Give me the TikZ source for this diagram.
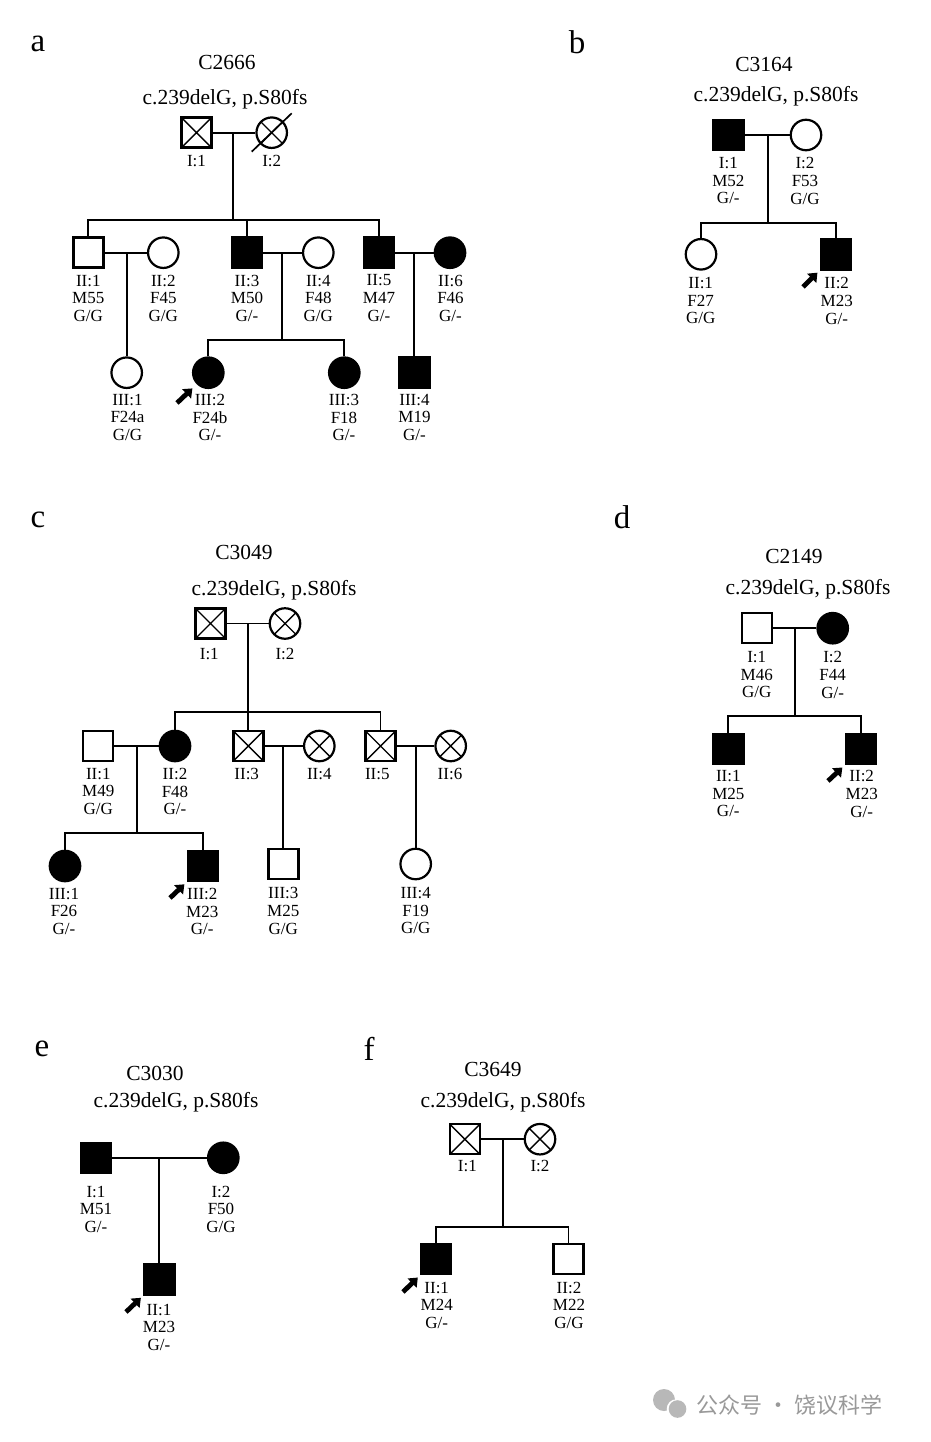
\documentclass[tikz,border=0pt]{standalone}
\usepackage{fontspec}
\setmainfont{Liberation Serif}
\newfontfamily\cjkfont{Noto Sans CJK SC}
\usetikzlibrary{arrows.meta}
\begin{document}
\begin{tikzpicture}[x=1pt,y=-1pt,
  line width=1.7pt,
  male/.style={draw, line width=2.5pt, rectangle, minimum size=30pt, inner sep=0pt, fill=white},
  female/.style={draw, line width=2.2pt, circle, minimum size=30.5pt, inner sep=0pt, fill=white},
  aff/.style={fill=black},
  xmark/.style={path picture={\draw[line width=1.4pt] (path picture bounding box.south west) -- (path picture bounding box.north east) (path picture bounding box.north west) -- (path picture bounding box.south east);}},
  lab/.style={anchor=north, align=center, inner sep=0pt, font=\fontsize{17}{17.6}\selectfont},
  title/.style={inner sep=0pt, font=\fontsize{21.5}{24}\selectfont},
  panel/.style={inner sep=0pt, font=\fontsize{33}{36}\selectfont},
  proband/.style={line width=4.8pt, -{Triangle[length=8pt,width=12.5pt]}, shorten >=3pt},
  wm/.style={fill=black!28, draw=none},
]
\fill[white] (0,0) rectangle (930,1442);
\useasboundingbox (0,0) rectangle (930,1442);

% ================= panel a =================
\node[panel] (la) at (38,44) {a};
\node[title] (ta1) at (227,62) {C2666};
\node[title] (ta2) at (225,99) {c.239delG, p.S80fs};
\node[male,xmark] (a11) at (196.5,132.7) {};
\node[female,xmark] (a12) at (271.7,132.7) {};
\draw (a12.center) ++(-20,19) -- ++(40,-38.4);
\node[lab] (a11l) at (196.5,154) {I:1};
\node[lab] (a12l) at (271.7,154) {I:2};
\draw (a11) -- (a12);
\coordinate (a1m) at (233.3,132.7);
\coordinate (a1s) at (233.3,220);
\draw (a1m) -- (a1s);

\node[male] (a21) at (88.3,252.7) {};
\node[female] (a22) at (163.3,252.7) {};
\node[male,aff] (a23) at (247,252.7) {};
\node[female] (a24) at (318.3,252.7) {};
\node[male,aff] (a25) at (378.8,252.7) {};
\node[female,aff] (a26) at (450,252.7) {};
\draw (a21.north) |- (a1s) -| (a25.north);
\draw (a23.north) -- (a23.north |- a1s);
\draw (a21) -- (a22);
\draw (a23) -- (a24);
\draw (a25) -- (a26);
\coordinate (a2m1) at (126.7,252.7);
\coordinate (a2m2) at (282.3,252.7);
\coordinate (a2m3) at (414.3,252.7);
\coordinate (a2s) at (282.3,340);
\node[lab] (a21l) at (88.3,274) {II:1\\M55\\G/G};
\node[lab] (a22l) at (163.3,274) {II:2\\F45\\G/G};
\node[lab] (a23l) at (247,274) {II:3\\M50\\G/-};
\node[lab] (a24l) at (318.3,274) {II:4\\F48\\G/G};
\node[lab] (a25l) at (379,274) {II:5\\M47\\G/-};
\node[lab] (a26l) at (450.5,274) {II:6\\F46\\G/-};

\node[female] (a31) at (126.7,372.7) {};
\node[female,aff] (a32) at (208.3,372.7) {};
\node[female,aff] (a33) at (344.3,372.7) {};
\node[male,aff] (a34) at (414.3,372.7) {};
\draw (a2m1) -- (a31);
\draw (a2m2) -- (a2s);
\draw (a32.north) |- (a2s) -| (a33.north);
\draw (a2m3) -- (a34);
\node[lab] (a31l) at (127.5,393.3) {III:1\\F24a\\G/G};
\node[lab] (a32l) at (210,393.3) {III:2\\F24b\\G/-};
\node[lab] (a33l) at (344,393.3) {III:3\\F18\\G/-};
\node[lab] (a34l) at (414.5,393.3) {III:4\\M19\\G/-};
\coordinate (pa) at (177,403);
\draw[proband, shorten >=6pt] (pa) -- (a32.south west);

% ================= panel b =================
\node[panel] (lb) at (577,42) {b};
\node[title] (tb1) at (764,64) {C3164};
\node[title] (tb2) at (776,96) {c.239delG, p.S80fs};
\node[male,aff] (b11) at (728.3,135) {};
\node[female] (b12) at (806,135) {};
\draw (b11) -- (b12);
\coordinate (bm) at (768.3,135);
\coordinate (bs) at (768.3,223.3);
\draw (bm) -- (bs);
\node[female] (b21) at (701,254.3) {};
\node[male,aff] (b22) at (835.8,254.3) {};
\draw (b21.north) |- (bs) -| (b22.north);
\node[lab] (b11l) at (728.3,156.7) {I:1\\M52\\G/-};
\node[lab] (b12l) at (805,156.7) {I:2\\F53\\G/G};
\node[lab] (b21l) at (700.7,276.7) {II:1\\F27\\G/G};
\node[lab] (b22l) at (836.7,276.7) {II:2\\M23\\G/-};
\coordinate (pb) at (803,287);
\draw[proband] (pb) -- (b22.south west);

% ================= panel c =================
\node[panel] (lc) at (38,520) {c};
\node[title] (tc1) at (244,552) {C3049};
\node[title] (tc2) at (274,590) {c.239delG, p.S80fs};
\node[male,xmark] (c11) at (210.5,623.5) {};
\node[female,xmark] (c12) at (285,623.5) {};
\draw (c11) -- (c12);
\coordinate (cm) at (248.3,623.5);
\coordinate (cs) at (248.3,711.7);
\draw (cm) -- (cs);
\node[lab] (c11l) at (209.3,647.3) {I:1};
\node[lab] (c12l) at (285,647.3) {I:2};

\node[male] (c21) at (98.2,746) {};
\node[female,aff] (c22) at (175,746) {};
\node[male,xmark] (c23) at (248.3,746) {};
\node[female,xmark] (c24) at (319.3,746) {};
\node[male,xmark] (c25) at (380.5,746) {};
\node[female,xmark] (c26) at (450.7,746) {};
\draw (c22.north) |- (cs) -| (c25.north);
\draw (cs) -- (c23);
\draw (c21) -- (c22);
\draw (c23) -- (c24);
\draw (c25) -- (c26);
\coordinate (c2m1) at (136.7,746);
\coordinate (c2m2) at (283.3,746);
\coordinate (c2m3) at (415.7,746);
\coordinate (c2s1) at (136.7,833.3);
\node[lab] (c21l) at (98.3,767.3) {II:1\\M49\\G/G};
\node[lab] (c22l) at (175,767.3) {II:2\\F48\\G/-};
\node[lab] (c23l) at (246.7,767.3) {II:3};
\node[lab] (c24l) at (319.3,767.3) {II:4};
\node[lab] (c25l) at (377.3,767.3) {II:5};
\node[lab] (c26l) at (450,767.3) {II:6};

\node[female,aff] (c31) at (65,866) {};
\node[male,aff] (c32) at (202.8,866) {};
\node[male] (c33) at (283.3,864) {};
\node[female] (c34) at (415.7,864) {};
\draw (c2m1) -- (c2s1);
\draw (c31.north) |- (c2s1) -| (c32.north);
\draw (c2m2) -- (c33);
\draw (c2m3) -- (c34);
\node[lab] (c31l) at (64,887.3) {III:1\\F26\\G/-};
\node[lab] (c32l) at (202.3,887.3) {III:2\\M23\\G/-};
\node[lab] (c33l) at (283.3,886.7) {III:3\\M25\\G/G};
\node[lab] (c34l) at (415.7,886.7) {III:4\\F19\\G/G};
\coordinate (pc) at (170,898);
\draw[proband] (pc) -- (c32.south west);

% ================= panel d =================
\node[panel] (ld) at (622,517) {d};
\node[title] (td1) at (794,556) {C2149};
\node[title] (td2) at (808,589) {c.239delG, p.S80fs};
\node[male] (d11) at (756.8,628.2) {};
\node[female,aff] (d12) at (832.7,628.2) {};
\draw (d11) -- (d12);
\coordinate (dm) at (795,628.2);
\coordinate (ds) at (795,715.7);
\draw (dm) -- (ds);
\node[male,aff] (d21) at (728.3,749.2) {};
\node[male,aff] (d22) at (860.8,749.2) {};
\draw (d21.north) |- (ds) -| (d22.north);
\node[lab] (d11l) at (756.7,650.7) {I:1\\M46\\G/G};
\node[lab] (d12l) at (832.7,650.7) {I:2\\F44\\G/-};
\node[lab] (d21l) at (728.3,769.7) {II:1\\M25\\G/-};
\node[lab] (d22l) at (861.7,769.7) {II:2\\M23\\G/-};
\coordinate (pd) at (828,781);
\draw[proband] (pd) -- (d22.south west);

% ================= panel e =================
\node[panel] (le) at (42,1049) {e};
\node[title] (te1) at (155,1073) {C3030};
\node[title] (te2) at (176,1102) {c.239delG, p.S80fs};
\node[male,aff] (e11) at (95.8,1157.8) {};
\node[female,aff] (e12) at (223.3,1157.8) {};
\draw (e11) -- (e12);
\coordinate (em) at (159.3,1157.8);
\node[male,aff] (e21) at (159.3,1279.5) {};
\draw (em) -- (e21);
\node[lab] (e11l) at (96,1185) {I:1\\M51\\G/-};
\node[lab] (e12l) at (221,1185) {I:2\\F50\\G/G};
\node[lab] (e21l) at (159,1303) {II:1\\M23\\G/-};
\coordinate (pe) at (126,1312);
\draw[proband] (pe) -- (e21.south west);

% ================= panel f =================
\node[panel] (lf) at (369,1049) {f};
\node[title] (tf1) at (493,1069) {C3649};
\node[title] (tf2) at (503,1102) {c.239delG, p.S80fs};
\node[male,xmark] (f11) at (464.8,1139.2) {};
\node[female,xmark] (f12) at (540,1139.2) {};
\draw (f11) -- (f12);
\coordinate (fm) at (502.7,1139.2);
\coordinate (fs) at (502.7,1227.3);
\draw (fm) -- (fs);
\node[male,aff] (f21) at (436.2,1259.2) {};
\node[male] (f22) at (568.5,1259.2) {};
\draw (f21.north) |- (fs) -| (f22.north);
\node[lab] (f11l) at (467.3,1159) {I:1};
\node[lab] (f12l) at (540,1159) {I:2};
\node[lab] (f21l) at (436.7,1281) {II:1\\M24\\G/-};
\node[lab] (f22l) at (569,1281) {II:2\\M22\\G/G};
\coordinate (pf) at (403,1292);
\draw[proband] (pf) -- (f21.south west);

% ================= watermark =================
\fill[wm] (664,1400) circle (11);
\fill[white] (676.5,1409) circle (9.8);
\fill[wm] (677.5,1409) circle (8.8);
\node[anchor=west, inner sep=0pt, text=black!40, font=\fontsize{22}{24}\selectfont\cjkfont] (wmt) at (696,1405) {公众号 · 饶议科学};
\end{tikzpicture}
\end{document}
